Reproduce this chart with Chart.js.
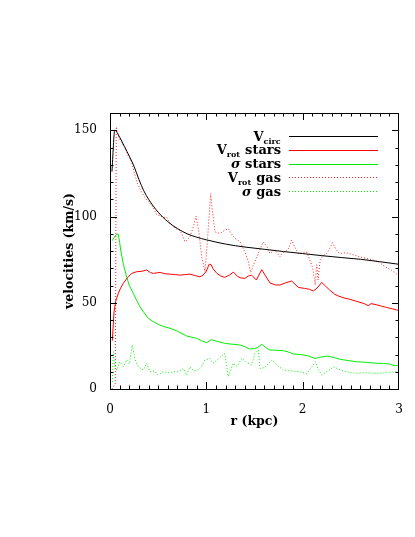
<!DOCTYPE html>
<html><head><meta charset="utf-8">
<script src="https://cdn.jsdelivr.net/npm/chart.js@4.4.0/dist/chart.umd.min.js"></script>
<style>html,body{margin:0;padding:0;background:#fff}#c{display:block}</style>
</head><body>
<canvas id="c" width="415" height="537"></canvas>
<script>
// ---- data (r in kpc, velocities in km/s) ----
const rCirc = [0.02,0.05,0.1,0.15,0.2,0.25,0.3,0.35,0.4,0.5,0.6,0.7,0.8,0.9,1.0,1.2,1.4,1.6,1.8,2.0,2.2,2.4,2.6,2.8,3.0];
const vCirc = [126,150,146,140.5,135,129,121.5,115,110,102.5,97,93,90,88,86.5,84,82.3,81,79.7,78.5,77.3,76.2,75.2,73.8,72.3];

const rRotStars = [0.024,0.042,0.06,0.086,0.11,0.138,0.18,0.225,0.277,0.33,0.38,0.42,0.45,0.52,0.57,0.623,0.68,0.727,0.78,0.83,0.88,0.934,0.965,0.997,1.03,1.05,1.07,1.11,1.15,1.19,1.24,1.28,1.32,1.35,1.40,1.436,1.47,1.52,1.575,1.61,1.66,1.72,1.765,1.82,1.886,1.955,2.02,2.07,2.11,2.15,2.197,2.24,2.28,2.33,2.37,2.43,2.49,2.55,2.595,2.64,2.68,2.71,2.77,2.82,2.87,2.93,2.976,3.0];
const vRotStars = [28,44.8,51,55.4,58.5,61.2,64.5,67,68,68.2,69,67.5,67,67.6,66.8,66.6,66.3,66,66.3,66.6,65.8,65,66,68,72.4,72,69.7,67,65.5,64.7,66,67.8,65.5,64.5,64.1,65.5,66,63.2,69.2,66,61.5,60.3,60.3,61.5,62.6,58.9,58.3,57.8,56.8,58.5,61.8,59.5,57.4,55,53.9,52.8,52,51,50.2,49.5,48.3,49.5,48.8,48,47.3,46.5,45.8,45.5];

const rSigStars = [0.024,0.05,0.07,0.086,0.1,0.111,0.14,0.173,0.2,0.242,0.28,0.311,0.35,0.398,0.45,0.519,0.57,0.623,0.7,0.796,0.85,0.9,0.95,1.004,1.05,1.12,1.2,1.28,1.35,1.40,1.446,1.5,1.53,1.575,1.63,1.66,1.72,1.8,1.85,1.9,1.98,2.06,2.13,2.19,2.25,2.32,2.39,2.47,2.56,2.65,2.77,2.84,2.9,2.95,3.0];
const vSigStars = [86,88.5,89.8,89.8,85,80.5,72,65,60,55.4,51,47.7,44.5,41,39,37,36,35.2,33.5,30.7,30,29.4,28,26.8,28.6,27.5,26.4,25.9,25.5,24.5,23.2,23.4,24,25.9,23.5,22.6,22.5,22.2,21.5,20.3,20,19.1,17.7,18.5,19.1,18.3,17.2,16.5,15.8,15.5,14.9,14.8,14.5,13.5,13.8];

const rRotGas = [0.02,0.055,0.065,0.08,0.1,0.12,0.156,0.19,0.225,0.25,0.28,0.31,0.34,0.38,0.41,0.45,0.485,0.52,0.55,0.588,0.62,0.66,0.7,0.727,0.779,0.83,0.865,0.893,0.92,0.952,0.986,1.01,1.045,1.066,1.09,1.142,1.19,1.228,1.26,1.298,1.35,1.40,1.436,1.46,1.49,1.54,1.59,1.625,1.66,1.71,1.765,1.79,1.817,1.85,1.886,1.92,1.955,2.0,2.04,2.075,2.105,2.13,2.145,2.16,2.18,2.2,2.25,2.28,2.31,2.345,2.38,2.45,2.54,2.6,2.66,2.72,2.785,2.855,2.92,2.99];
const vRotGas = [0,3,152,148,145,143,140,135,131.7,126,120,116,113,109.5,108,105,101,100.5,99.5,99.5,96,94,92.5,92.1,85.3,88.2,94,100.2,92,76.7,68,85,113.3,101.8,91.1,90.1,92,93,90,87.3,85.3,79.5,73.8,67.4,72,78.6,85.3,83,78.6,80.5,76.7,79,79.5,81,86.3,82,78.6,79,79.5,74.7,70,60.3,72,63.2,74,76.7,78.6,81.5,84.8,81,78.6,79,77.6,76.5,75.7,75,73.8,70.9,69,66];

const rSigGas = [0.025,0.034,0.045,0.07,0.104,0.138,0.173,0.2,0.232,0.26,0.294,0.346,0.38,0.415,0.46,0.5,0.553,0.61,0.675,0.72,0.761,0.796,0.83,0.87,0.917,0.95,0.986,1.038,1.07,1.13,1.19,1.228,1.28,1.32,1.367,1.42,1.47,1.505,1.54,1.557,1.61,1.68,1.73,1.8,1.88,1.97,2.04,2.09,2.13,2.16,2.197,2.25,2.32,2.39,2.46,2.56,2.64,2.77,2.87,2.976];
const vSigGas = [4,21.6,14,11,15.8,12.9,16.8,14.5,25.5,17,12.9,11,14.9,10,10.5,8.1,10,9.5,10,10,11.9,8.1,12.9,10.5,11,13,16.8,17.7,14.9,17.7,20.6,7.2,14.9,13,17.7,15.5,13.9,20.6,22.6,11.9,12.5,16.8,14,11,10.5,10,8.7,12.5,15.8,11.5,8.1,10,12.9,11,10,9,9.5,9,9.5,10];

// ---- axes / labels ----
const xTickValues = [0,1,2,3];
const yTickValues = [0,50,100,150];
const xMinorStep = 0.1;
const yMinorStep = 10;
const xTitle = 'r (kpc)';
const yTitle = 'velocities (km/s)';
// legend labels: [main, subscript, rest, italic?]
const legendParts = [
  ['V','circ','',false],
  ['V','rot',' stars',false],
  ['\u03C3','',' stars',true],
  ['V','rot',' gas',false],
  ['\u03C3','',' gas',true]
];

const pts = (rs, vs) => rs.map((r,i) => ({x:r, y:vs[i]}));
const SERIF = '"DejaVu Serif", serif';

const framePlugin = {
  id: 'frame',
  afterDraw(chart) {
    const {ctx, chartArea: a, scales: {x, y}} = chart;
    ctx.save();
    ctx.strokeStyle = '#000';
    ctx.lineWidth = 1;
    ctx.strokeRect(Math.round(a.left)+0.5, Math.round(a.top)+0.5, Math.round(a.right-a.left)-1, Math.round(a.bottom-a.top));
    ctx.beginPath();
    const nx = Math.round((x.max - x.min)/xMinorStep);
    for (let i=1;i<nx;i++){
      const v = x.min + i*xMinorStep;
      const major = xTickValues.some(t => Math.abs(t-v) < 1e-6);
      const len = major ? 7 : 3.5;
      const px = Math.round(x.getPixelForValue(v)) + 0.5;
      ctx.moveTo(px, a.bottom); ctx.lineTo(px, a.bottom - len);
      ctx.moveTo(px, a.top); ctx.lineTo(px, a.top + len);
    }
    const ny = Math.round((y.max - y.min)/yMinorStep);
    for (let i=1;i<ny;i++){
      const v = y.min + i*yMinorStep;
      const major = yTickValues.some(t => Math.abs(t-v) < 1e-6);
      const len = major ? 7 : 3.5;
      const py = Math.round(y.getPixelForValue(v)) + 0.5;
      ctx.moveTo(a.left, py); ctx.lineTo(a.left + len, py);
      ctx.moveTo(a.right, py); ctx.lineTo(a.right - len, py);
    }
    ctx.stroke();

    // legend
    const rowTop = a.top + 23, rowGap = 13.8;
    const textRight = a.left + 171, lineL = a.left + 179, lineR = a.left + 268;
    chart.data.datasets.forEach((ds, i) => {
      const [main, sub, rest, ital] = legendParts[i];
      const yy = rowTop + i*rowGap;
      const fMain = (ital ? 'italic ' : '') + 'bold 13px ' + SERIF;
      const fRest = 'bold 13px ' + SERIF;
      const fSub = 'bold 8px ' + SERIF;
      ctx.font = fMain; const wM = ctx.measureText(main).width;
      ctx.font = fSub; const wS = sub ? ctx.measureText(sub).width + 0.5 : 0;
      ctx.font = fRest; const wR = ctx.measureText(rest).width;
      let xx = textRight - (wM + wS + wR);
      ctx.fillStyle = '#000';
      ctx.textAlign = 'left'; ctx.textBaseline = 'alphabetic';
      ctx.font = fMain; ctx.fillText(main, xx, yy + 4.5); xx += wM;
      if (sub) { ctx.font = fSub; ctx.fillText(sub, xx, yy + 7.5); xx += wS; }
      ctx.font = fRest; ctx.fillText(rest, xx, yy + 4.5);
      ctx.beginPath();
      ctx.strokeStyle = ds.borderColor;
      ctx.lineWidth = ds.borderDash && ds.borderDash.length ? 1 : 1.2;
      ctx.setLineDash(ds.borderDash || []);
      ctx.moveTo(lineL, Math.round(yy)+0.5); ctx.lineTo(lineR, Math.round(yy)+0.5);
      ctx.stroke();
      ctx.setLineDash([]);
    });
    ctx.restore();
  }
};

const common = {pointRadius:0, borderWidth:1, fill:false, tension:0};
new Chart(document.getElementById('c'), {
  type: 'line',
  data: {
    datasets: [
      {...common, label:'V_circ', data: pts(rCirc, vCirc), borderColor:'#000000', cubicInterpolationMode:'monotone'},
      {...common, label:'V_rot stars', data: pts(rRotStars, vRotStars), borderColor:'#ff0000'},
      {...common, label:'sigma stars', data: pts(rSigStars, vSigStars), borderColor:'#00ee00'},
      {...common, label:'V_rot gas', data: pts(rRotGas, vRotGas), borderColor:'#ff2020', borderDash:[1,2]},
      {...common, label:'sigma gas', data: pts(rSigGas, vSigGas), borderColor:'#00ee00', borderDash:[1,2]}
    ]
  },
  options: {
    responsive: false,
    animation: false,
    layout: {padding: {left: 62, top: 113, right: 16, bottom: 108}},
    plugins: {legend: {display:false}, tooltip: {enabled:false}},
    scales: {
      x: {
        type: 'linear', min: 0, max: 3,
        afterBuildTicks: s => { s.ticks = xTickValues.map(v => ({value:v})); },
        afterFit: s => { s.height = 40; },
        grid: {display:false}, border: {display:false},
        ticks: {color:'#000', font:{family:SERIF, size:12}, padding:6, maxRotation:0},
        title: {display:true, text:xTitle, color:'#000', font:{family:SERIF, size:12.5, weight:'bold'}, padding:0}
      },
      y: {
        type: 'linear', min: 0, max: 160,
        afterBuildTicks: s => { s.ticks = yTickValues.map(v => ({value:v})); },
        afterFit: s => { s.width = 48; },
        grid: {display:false}, border: {display:false},
        ticks: {color:'#000', font:{family:SERIF, size:12}, padding:5},
        title: {display:true, text:yTitle, color:'#000', font:{family:SERIF, size:12.5, weight:'bold'}, padding:0}
      }
    }
  },
  plugins: [framePlugin]
});
</script>
</body></html>
